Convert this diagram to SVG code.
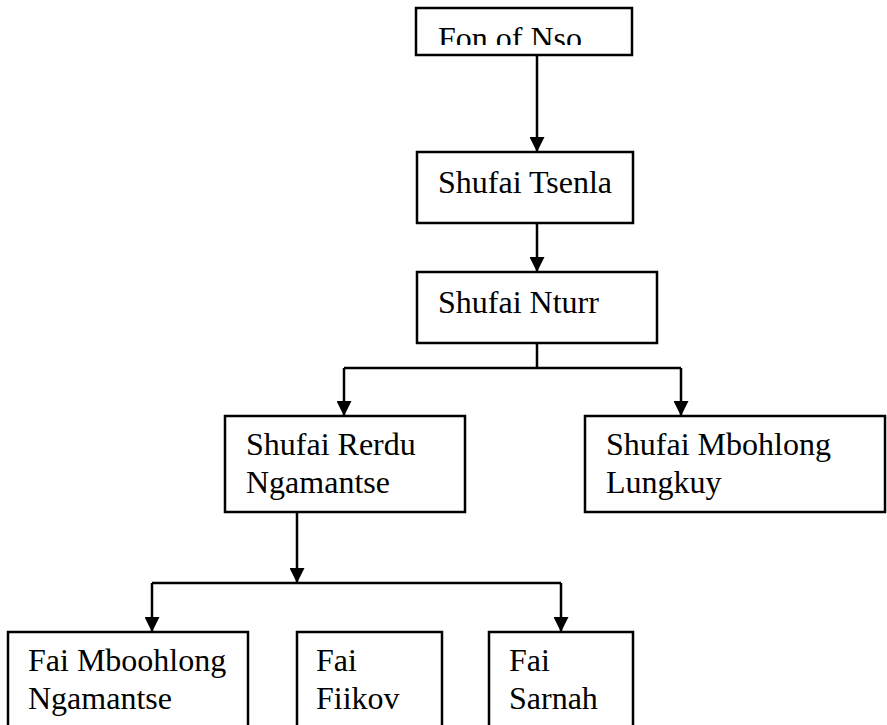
<svg xmlns="http://www.w3.org/2000/svg" width="887" height="725" viewBox="0 0 887 725">
  <defs>
    <marker id="arrow" viewBox="0 0 10 10" refX="10" refY="5" markerWidth="15" markerHeight="15" markerUnits="userSpaceOnUse" orient="auto">
      <path d="M0,0 L10,5 L0,10 Z" fill="#000"/>
    </marker>
    <clipPath id="topClip">
      <rect x="416" y="8" width="216" height="37"/>
    </clipPath>
  </defs>
  <style>
    .box { fill: #fff; stroke: #000; stroke-width: 2.5; }
    .lbl { font-family: "Liberation Serif", "Times New Roman", serif; font-size: 32px; fill: #000; }
    .wire { fill: none; stroke: #000; stroke-width: 2.5; }
  </style>
  <rect width="887" height="725" fill="#fff"/>

  <g id="connectors">
    <line class="wire" x1="537" y1="55" x2="537" y2="152" marker-end="url(#arrow)"/>
    <line class="wire" x1="537" y1="223" x2="537" y2="272" marker-end="url(#arrow)"/>
    <polyline class="wire" points="537,343 537,368"/>
    <polyline class="wire" points="344,368 681,368"/>
    <line class="wire" x1="344" y1="368" x2="344" y2="416" marker-end="url(#arrow)"/>
    <line class="wire" x1="681" y1="368" x2="681" y2="416" marker-end="url(#arrow)"/>
    <line class="wire" x1="297" y1="512" x2="297" y2="583" marker-end="url(#arrow)"/>
    <polyline class="wire" points="152,583 561,583"/>
    <line class="wire" x1="152" y1="583" x2="152" y2="632" marker-end="url(#arrow)"/>
    <line class="wire" x1="561" y1="583" x2="561" y2="632" marker-end="url(#arrow)"/>
  </g>

  <g id="fon-of-nso">
    <rect class="box" x="416" y="8" width="216" height="47"/>
    <text class="lbl" x="438" y="49" clip-path="url(#topClip)">Fon of Nso</text>
  </g>

  <g id="shufai-tsenla">
    <rect class="box" x="417" y="152" width="216" height="71"/>
    <text class="lbl" x="438" y="193">Shufai Tsenla</text>
  </g>

  <g id="shufai-nturr">
    <rect class="box" x="417" y="272" width="240" height="71"/>
    <text class="lbl" x="438" y="313">Shufai Nturr</text>
  </g>

  <g id="shufai-rerdu-ngamantse">
    <rect class="box" x="225" y="416" width="240" height="96"/>
    <text class="lbl" x="246" y="455">Shufai Rerdu</text>
    <text class="lbl" x="246" y="493">Ngamantse</text>
  </g>

  <g id="shufai-mbohlong-lungkuy">
    <rect class="box" x="585" y="416" width="300" height="96"/>
    <text class="lbl" x="606" y="455">Shufai Mbohlong</text>
    <text class="lbl" x="606" y="493">Lungkuy</text>
  </g>

  <g id="fai-mboohlong-ngamantse">
    <rect class="box" x="8" y="632" width="240" height="110"/>
    <text class="lbl" x="28" y="671">Fai Mboohlong</text>
    <text class="lbl" x="28" y="709">Ngamantse</text>
  </g>

  <g id="fai-fiikov">
    <rect class="box" x="297" y="632" width="145" height="110"/>
    <text class="lbl" x="316" y="671">Fai</text>
    <text class="lbl" x="316" y="709">Fiikov</text>
  </g>

  <g id="fai-sarnah">
    <rect class="box" x="489" y="632" width="144" height="110"/>
    <text class="lbl" x="509" y="671">Fai</text>
    <text class="lbl" x="509" y="709">Sarnah</text>
  </g>
</svg>
